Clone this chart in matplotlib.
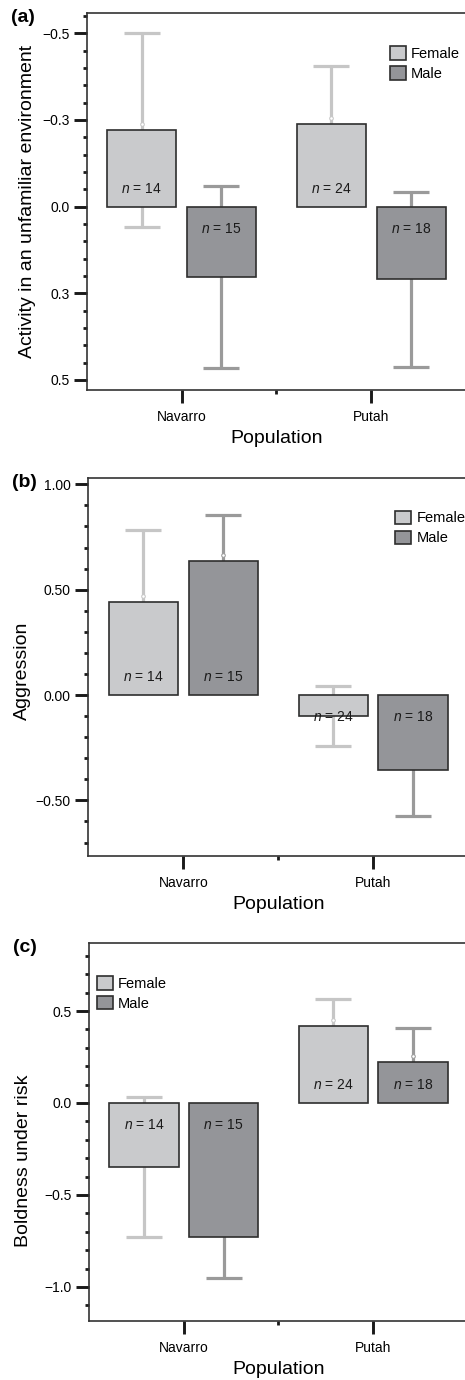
import matplotlib
matplotlib.use("Agg")
import matplotlib.pyplot as plt
import matplotlib.transforms as mtransforms
import numpy as np

plt.rcParams['font.family'] = ['Liberation Sans', 'DejaVu Sans']
plt.rcParams['mathtext.fontset'] = 'custom'
plt.rcParams['mathtext.it'] = 'Liberation Sans:italic'
plt.rcParams['mathtext.rm'] = 'Liberation Sans'

populations = ['Navarro', 'Putah']
n_female = [14, 24]
n_male = [15, 18]

# (a) activity in an unfamiliar environment (axis inverted)
activity_f = [-0.22, -0.238]
activity_f_err = [0.28, 0.168]
activity_m = [0.204, 0.21]
activity_m_err = [0.263, 0.253]

# (b) aggression
aggression_f = [0.443, -0.101]
aggression_f_err = [0.339, 0.143]
aggression_m = [0.636, -0.356]
aggression_m_err = [0.216, 0.217]

# (c) boldness under risk
boldness_f = [-0.35, 0.42]
boldness_f_err = [0.38, 0.144]
boldness_m = [-0.73, 0.221]
boldness_m_err = [0.223, 0.185]

FEMALE = '#c9cacc'
MALE = '#949599'
FEMALE_ERR = '#c6c6c6'
MALE_ERR = '#9a9a9a'
EDGE = '#2e2e2e'

panels = [
    dict(tag='(a)', ylabel='Activity in an unfamiliar environment',
         f=activity_f, fe=activity_f_err, m=activity_m, me=activity_m_err,
         ylim=(0.529, -0.558), yticks=[-0.5, -0.25, 0.0, 0.25, 0.5],
         yticklabels=['\u22120.5', '\u22120.3', '0.0', '0.3', '0.5'], minor=0.05,
         pos=[0.1865, 0.7174, 0.816, 0.2730], legend=(0.798, 0.912),
         ylab_y=0.5, ylab_x=-0.155),
    dict(tag='(b)', ylabel='Aggression',
         f=aggression_f, fe=aggression_f_err, m=aggression_m, me=aggression_m_err,
         ylim=(-0.764, 1.031), yticks=[-0.5, 0.0, 0.5, 1.0],
         yticklabels=['\u22120.50', '0.00', '0.50', '1.00'], minor=0.1,
         pos=[0.1899, 0.3797, 0.817, 0.2741], legend=(0.808, 0.913),
         ylab_y=0.489, ylab_x=-0.173),
    dict(tag='(c)', ylabel='Boldness under risk',
         f=boldness_f, fe=boldness_f_err, m=boldness_m, me=boldness_m_err,
         ylim=(-1.185, 0.871), yticks=[-1.0, -0.5, 0.0, 0.5],
         yticklabels=['\u22121.0', '\u22120.5', '0.0', '0.5'], minor=0.1,
         pos=[0.1914, 0.04275, 0.815, 0.2741], legend=(0.02, 0.912),
         ylab_y=0.423, ylab_x=-0.174),
]

fig = plt.figure(figsize=(4.65, 13.8), dpi=100)
x = np.arange(len(populations))
off = 0.21
width = 0.365

for p in panels:
    ax = fig.add_axes(p['pos'])
    inverted = p['ylim'][0] > p['ylim'][1]
    for sign, vals, errs, col, ecol, ns, lab in [
            (-1, p['f'], p['fe'], FEMALE, FEMALE_ERR, n_female, 'Female'),
            (1, p['m'], p['me'], MALE, MALE_ERR, n_male, 'Male')]:
        xs = x + sign * off
        ax.errorbar(xs, vals, yerr=errs, fmt='none', ecolor=ecol, elinewidth=2.3,
                    capsize=13, capthick=2.3, zorder=1)
        up = mtransforms.offset_copy(ax.transData, fig=fig, x=0, y=4.3, units='points')
        ax.plot(xs, vals, 'o', ms=2.6, mfc='white', mec=ecol, mew=0.7,
                transform=up, zorder=1.5)
        ax.bar(xs, vals, width=width, color=col, edgecolor=EDGE, linewidth=1.2,
               zorder=2, label=lab)
        for xi, v, n in zip(xs, vals, ns):
            # label sits just inside the bar, next to the zero line
            screen_up = (v > 0) != inverted
            dy = 13 if screen_up else -16
            ax.annotate(r'$n$ = %d' % n, (xi, 0), xytext=(0, dy),
                        textcoords='offset points', ha='center', va='center',
                        fontsize=10, color='#1a1a1a', zorder=3)

    ax.set_xlim(-0.5, 1.5)
    ax.set_ylim(*p['ylim'])
    ax.set_xticks(x)
    ax.set_xticklabels(populations, fontsize=10)
    ax.set_xticks([0.5], minor=True)
    ax.set_yticks(p['yticks'])
    ax.set_yticklabels(p['yticklabels'], fontsize=10)
    lo, hi = sorted(p['ylim'])
    step = p['minor']
    ax.set_yticks(np.arange(np.ceil(lo / step) * step, hi, step), minor=True)
    ax.tick_params(axis='both', which='major', length=9.5, width=2.1,
                   color='#1a1a1a', pad=3)
    ax.tick_params(axis='y', which='minor', length=2.8, width=2.0, color='#1a1a1a')
    ax.tick_params(axis='x', which='minor', length=2.8, width=2.0, color='#1a1a1a')
    ax.tick_params(axis='x', which='major', pad=5)
    for s in ['left', 'bottom', 'top']:
        ax.spines[s].set_color('#333333')
        ax.spines[s].set_linewidth(1.2)
    ax.spines['right'].set_visible(False)

    ax.set_xlabel('Population', fontsize=14, labelpad=4)
    ax.text(p['ylab_x'], p['ylab_y'], p['ylabel'], transform=ax.transAxes,
            rotation=90, ha='center', va='center', fontsize=14)
    ax.text(-0.2, 0.988, p['tag'], transform=ax.transAxes, fontsize=14,
            fontweight='bold', ha='left', va='center')

    ax.legend(loc='upper left', bbox_to_anchor=p['legend'], frameon=False,
              fontsize=10.5, handlelength=1.1, handleheight=1.05,
              handletextpad=0.35, labelspacing=0.35, borderpad=0, borderaxespad=0)

fig.savefig('out.png', dpi=100)
